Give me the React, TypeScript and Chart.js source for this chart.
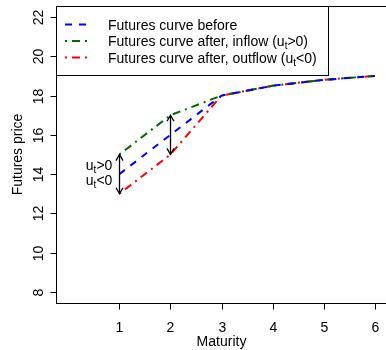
import React, { useEffect, useRef } from "react";
import { Chart, registerables } from "chart.js";

Chart.register(...registerables);

const maturities = [1, 2, 3, 4, 5, 6];
const curveBefore = [14, 16, 18, 18.5, 18.8, 19];
const curveInflow = [15, 17, 18, 18.5, 18.8, 19];
const curveOutflow = [13, 15, 18, 18.5, 18.8, 19];

const xTicks = [1, 2, 3, 4, 5, 6];
const yTicks = [8, 10, 12, 14, 16, 18, 20, 22];

const arrowX = [1, 2];
const arrowLow = [13, 15];
const arrowHigh = [15, 17];

const annotX = 1;
const annotY = [14.45, 13.7];
const annotText = [">0", "<0"];

const legendLabels = [
  "Futures curve before",
  "Futures curve after, inflow (u",
  "Futures curve after, outflow (u",
];
const legendSuffix = ["", ">0)", "<0)"];

const FONT = "'Liberation Sans', Arial, Helvetica, sans-serif";
const colors = ["#0000FF", "#006A00", "#FF0000"];
const dashes = [[7, 7], [2, 5, 8, 5], [2, 5, 8, 5]];

function drawArrowHead(ctx: CanvasRenderingContext2D, x: number, y: number, dir: number) {
  const len = 7;
  const ang = Math.PI / 6;
  ctx.beginPath();
  ctx.moveTo(x - len * Math.sin(ang), y + dir * len * Math.cos(ang));
  ctx.lineTo(x, y);
  ctx.lineTo(x + len * Math.sin(ang), y + dir * len * Math.cos(ang));
  ctx.stroke();
}

const customPlugin = {
  id: "rstyle",
  afterDatasetsDraw(chart: any) {
    const ctx: CanvasRenderingContext2D = chart.ctx;
    const xs = chart.scales.x;
    const ys = chart.scales.y;
    const area = chart.chartArea;
    ctx.save();
    // arrows
    ctx.strokeStyle = "#000";
    ctx.lineWidth = 1.3;
    ctx.setLineDash([]);
    arrowX.forEach((xv, i) => {
      const px = Math.round(xs.getPixelForValue(xv)) + 0.5;
      const yTop = ys.getPixelForValue(arrowHigh[i]);
      const yBot = ys.getPixelForValue(arrowLow[i]);
      ctx.beginPath();
      ctx.moveTo(px, yTop);
      ctx.lineTo(px, yBot);
      ctx.stroke();
      drawArrowHead(ctx, px, yTop, 1);
      drawArrowHead(ctx, px, yBot, -1);
    });
    // annotations u_t>0 / u_t<0
    ctx.fillStyle = "#000";
    ctx.textBaseline = "alphabetic";
    ctx.textAlign = "left";
    annotY.forEach((yv, i) => {
      const py = ys.getPixelForValue(yv) + 5;
      const right = xs.getPixelForValue(annotX) - 7;
      ctx.font = `14px ${FONT}`;
      const wU = ctx.measureText("u").width;
      const wRest = ctx.measureText(annotText[i]).width;
      ctx.font = `10px ${FONT}`;
      const wT = ctx.measureText("t").width;
      let x0 = right - (wU + wT + wRest);
      ctx.font = `14px ${FONT}`;
      ctx.fillText("u", x0, py);
      ctx.font = `10px ${FONT}`;
      ctx.fillText("t", x0 + wU, py + 3);
      ctx.font = `14px ${FONT}`;
      ctx.fillText(annotText[i], x0 + wU + wT, py);
    });

    // box
    ctx.lineWidth = 1;
    ctx.strokeStyle = "#000";
    ctx.strokeRect(Math.round(area.left) + 0.5, Math.round(area.top) + 0.5,
      Math.round(area.right - area.left), Math.round(area.bottom - area.top));

    // x axis ticks and labels
    ctx.font = `14px ${FONT}`;
    ctx.textAlign = "center";
    ctx.textBaseline = "alphabetic";
    const by = Math.round(area.bottom) + 0.5;
    xTicks.forEach((v) => {
      const px = Math.round(xs.getPixelForValue(v)) + 0.5;
      ctx.beginPath();
      ctx.moveTo(px, by);
      ctx.lineTo(px, by + 6);
      ctx.stroke();
      ctx.fillText(String(v), px, 332);
    });
    ctx.fillText("Maturity", (area.left + area.right) / 2, 346);

    // y axis ticks and labels
    const lx = Math.round(area.left) + 0.5;
    yTicks.forEach((v) => {
      const py = Math.round(ys.getPixelForValue(v)) + 0.5;
      ctx.beginPath();
      ctx.moveTo(lx - 6, py);
      ctx.lineTo(lx, py);
      ctx.stroke();
      ctx.save();
      ctx.translate(43, py);
      ctx.rotate(-Math.PI / 2);
      ctx.fillText(String(v), 0, 0);
      ctx.restore();
    });
    ctx.save();
    ctx.translate(22, (area.top + area.bottom) / 2);
    ctx.rotate(-Math.PI / 2);
    ctx.fillText("Futures price", 0, 0);
    ctx.restore();

    // legend
    const lgL = Math.round(area.left) + 0.5;
    const lgT = Math.round(area.top) + 0.5;
    const lgR = 328.5;
    const lgB = 75.5;
    ctx.fillStyle = "#fff";
    ctx.fillRect(lgL, lgT, lgR - lgL, lgB - lgT);
    ctx.strokeStyle = "#000";
    ctx.strokeRect(lgL, lgT, lgR - lgL, lgB - lgT);
    const rows = [24.5, 41, 57.5];
    ctx.textAlign = "left";
    ctx.textBaseline = "alphabetic";
    legendLabels.forEach((lab, i) => {
      const ry = rows[i];
      ctx.strokeStyle = colors[i];
      ctx.lineWidth = 2;
      ctx.setLineDash(dashes[i]);
      ctx.beginPath();
      ctx.moveTo(65, ry);
      ctx.lineTo(90, ry);
      ctx.stroke();
      ctx.setLineDash([]);
      ctx.fillStyle = "#000";
      ctx.font = `14px ${FONT}`;
      const base = ry + 5;
      ctx.fillText(lab, 108, base);
      if (legendSuffix[i]) {
        const w = ctx.measureText(lab).width;
        ctx.font = `10px ${FONT}`;
        ctx.fillText("t", 108 + w, base + 3);
        const wt = ctx.measureText("t").width;
        ctx.font = `14px ${FONT}`;
        ctx.fillText(legendSuffix[i], 108 + w + wt, base);
      }
    });
    ctx.restore();
  },
};

export default function App() {
  const ref = useRef<HTMLCanvasElement>(null);
  useEffect(() => {
    if (!ref.current) return;
    const mk = (vals: number[]) => maturities.map((m, i) => ({ x: m, y: vals[i] }));
    const chart = new Chart(ref.current, {
      type: "line",
      data: {
        datasets: [
          { label: "before", data: mk(curveBefore), borderColor: colors[0], borderDash: dashes[0], borderWidth: 2, pointRadius: 0, fill: false, tension: 0 },
          { label: "inflow", data: mk(curveInflow), borderColor: colors[1], borderDash: dashes[1], borderWidth: 2, pointRadius: 0, fill: false, tension: 0 },
          { label: "outflow", data: mk(curveOutflow), borderColor: colors[2], borderDash: dashes[2], borderWidth: 2, pointRadius: 0, fill: false, tension: 0 },
        ],
      },
      options: {
        animation: false,
        responsive: false,
        devicePixelRatio: 1,
        layout: { padding: { left: 56, top: 6, right: 5, bottom: 47 } },
        plugins: { legend: { display: false }, tooltip: { enabled: false } },
        scales: {
          x: { type: "linear", min: -0.24, max: 6.24, display: false },
          y: { type: "linear", min: 7.44, max: 22.56, display: false },
        },
      },
      plugins: [customPlugin],
    });
    return () => chart.destroy();
  }, []);
  return (
    <div style={{ position: "fixed", left: 0, top: 0, width: 386, height: 350, overflow: "hidden", background: "#fff" }}>
      <canvas ref={ref} width={392} height={350} style={{ width: 392, height: 350, display: "block" }} />
    </div>
  );
}
